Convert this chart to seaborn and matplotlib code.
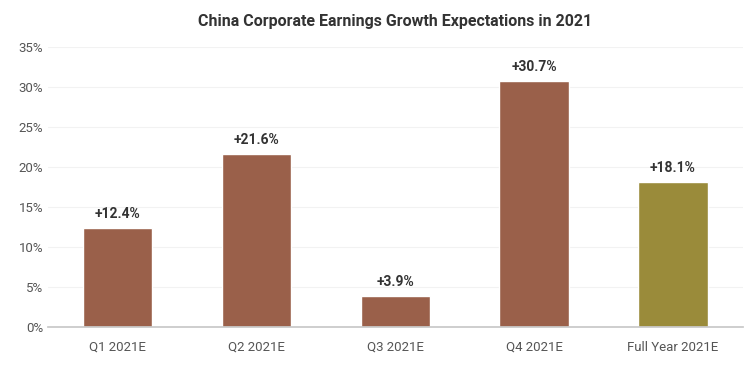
import matplotlib
matplotlib.use("Agg")
import matplotlib.pyplot as plt
import seaborn as sns
import pandas as pd
from matplotlib.ticker import PercentFormatter
from matplotlib import font_manager

categories = ["Q1 2021E", "Q2 2021E", "Q3 2021E", "Q4 2021E", "Full Year 2021E"]
growth = [12.4, 21.6, 3.9, 30.7, 18.1]
bar_colors = ["#9a604a", "#9a604a", "#9a604a", "#9a604a", "#9a8b3a"]
yticks = [0, 5, 10, 15, 20, 25, 30, 35]

names = {f.name for f in font_manager.fontManager.ttflist}
fam = "Liberation Sans Narrow" if "Liberation Sans Narrow" in names else "Roboto"

sns.set_theme(style="white")
plt.rcParams["font.family"] = [fam, "DejaVu Sans"]

df = pd.DataFrame({"cat": categories, "val": growth})

fig, ax = plt.subplots(figsize=(7.5, 3.73), dpi=100)
fig.subplots_adjust(left=0.064, right=0.99, top=0.874, bottom=0.123)

sns.barplot(data=df, x="cat", y="val", hue="cat", palette=bar_colors,
            width=0.5, legend=False, ax=ax, saturation=1)

for i, v in enumerate(growth):
    ax.text(i, v + 0.9, f"+{v:.1f}%", ha="center", va="bottom",
            fontsize=10, fontweight="bold", color="#333333")

ax.set_ylim(0, 35)
ax.set_yticks(yticks)
ax.yaxis.set_major_formatter(PercentFormatter(decimals=0))
ax.set_xlabel("")
ax.set_ylabel("")
ax.grid(axis="y", color="#f2f2f2", linewidth=0.8)
ax.set_axisbelow(True)
for s in ["top", "right", "left"]:
    ax.spines[s].set_visible(False)
ax.spines["bottom"].set_color("#c8c8c8")
ax.tick_params(axis="both", labelsize=9.5, colors="#555555", length=0)
ax.tick_params(axis="x", pad=10)
ax.set_title("China Corporate Earnings Growth Expectations in 2021",
             fontsize=11.5, fontweight="bold", color="#333333", pad=15)

fig.savefig("out.png", dpi=100)
